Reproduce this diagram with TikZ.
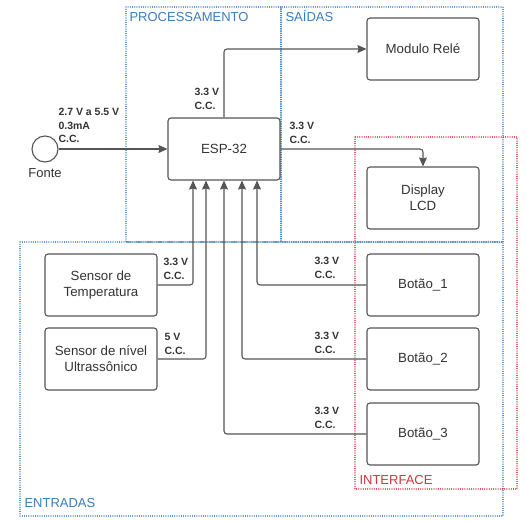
\documentclass[tikz,border=0pt]{standalone}
\usepackage{fontspec}
\setmainfont{Liberation Sans}
\usetikzlibrary{arrows.meta}
\definecolor{cinza}{HTML}{555555}
\definecolor{azul}{HTML}{3A7CC0}
\definecolor{vermelho}{HTML}{D0343A}
\tikzset{
  bloco/.style={draw=cinza, rounded corners=3pt, line width=1.1pt,
    minimum width=112pt, minimum height=62pt, align=center,
    text=black!80, font=\fontsize{13.3}{16}\selectfont},
  tensao/.style={anchor=north west, inner sep=0pt, align=left,
    text=black!80, font=\bfseries\fontsize{10.5}{13.5}\selectfont},
  regiao/.style={dash pattern=on 0.01pt off 2.2pt, line cap=round, line width=1.15pt},
  titulo/.style={anchor=base west, inner sep=0pt, font=\fontsize{13}{15}\selectfont},
}
\begin{document}
\begin{tikzpicture}[>={Stealth[length=9pt,width=8pt,inset=1pt]},x=1pt,y=-1pt,line width=1.1pt]
    \useasboundingbox (0,0) rectangle (527,520);
    % regioes
    \draw[regiao,azul] (126,7) rectangle (281,242);
    \draw[regiao,azul] (281,7) rectangle (503,242);
    \draw[regiao,azul] (20,242) rectangle (503,516);
    \draw[regiao,vermelho] (355,137) rectangle (517,489);
    \node[titulo,text=azul] (tproc) at (129,21) {PROCESSAMENTO};
    \node[titulo,text=azul] (tsaidas) at (285,21) {SAÍDAS};
    \node[titulo,text=azul] (tentradas) at (24,507) {ENTRADAS};
    \node[titulo,text=vermelho] (tinterface) at (359,484) {INTERFACE};
    % blocos
    \node[circle,draw=cinza,line width=1.1pt,minimum size=26pt,inner sep=0pt] (fonte) at (45,149) {};
    \node[anchor=north,inner sep=0pt,text=black!80,font=\fontsize{13}{15}\selectfont] (tfonte) at (45,168) {Fonte};
    \node[bloco] (esp) at (224,149) {ESP-32};
    \node[bloco] (rele) at (423,49) {Modulo Relé};
    \node[bloco] (lcd) at (423,198) {Display\\LCD};
    \node[bloco] (temp) at (101,285) {Sensor de\\Temperatura};
    \node[bloco] (nivel) at (101,359) {Sensor de nível\\Ultrassônico};
    \foreach \i/\y in {1/285,2/359,3/434}{
        \node[bloco] (bt\i) at (423,\y) {Botão\_\i};
    }
    % ligacoes
    \draw[->,cinza] (fonte) -- (esp);
    \draw[->,cinza,rounded corners=3pt] (esp.north) |- (rele.west);
    \draw[->,cinza,rounded corners=3pt] (esp.east) -| (lcd.north);
    \foreach \de/\dx in {temp.east/-31,nivel.east/-18,bt3.west/0,bt2.west/18,bt1.west/33}{
        \draw[->,cinza,rounded corners=3pt] (\de) -| ([xshift=\dx pt]esp.south);
    }
    % tensoes
    \node[tensao] (vfonte) at (58,108) {2.7 V a 5.5 V\\0.3mA\\C.C.};
    \node[tensao] (vrele) at (194,88) {3.3 V\\C.C.};
    \node[tensao] (vlcd) at (289,122) {3.3 V\\C.C.};
    \node[tensao] (vtemp) at (163,258) {3.3 V\\C.C.};
    \node[tensao] (vnivel) at (164,333) {5 V\\C.C.};
    \foreach \y [count=\i] in {257,332,407}{
        \node[tensao] (vbt\i) at (314,\y) {3.3 V\\C.C.};
    }
\end{tikzpicture}
\end{document}
